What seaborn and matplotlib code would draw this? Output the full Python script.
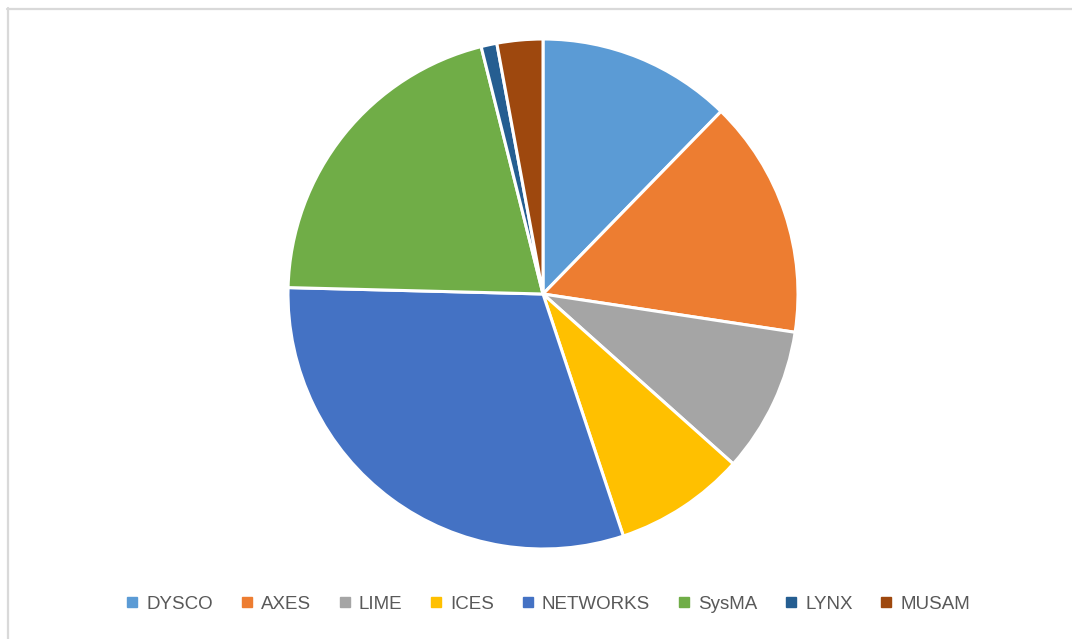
import matplotlib
matplotlib.use("Agg")
import matplotlib.pyplot as plt
from matplotlib.lines import Line2D
import seaborn as sns

projects = ["DYSCO", "AXES", "LIME", "ICES", "NETWORKS", "SysMA", "LYNX", "MUSAM"]
shares = [12.3, 15.1, 9.2, 8.3, 30.5, 20.7, 1.0, 2.9]
colors = ["#5B9BD5", "#ED7D31", "#A5A5A5", "#FFC000", "#4472C4", "#70AD47", "#255E91", "#9E480E"]

sns.set_theme(style="white")
plt.rcParams["font.family"] = ["Liberation Sans", "DejaVu Sans"]
palette = sns.color_palette(colors)

W, H = 1072, 639
fig = plt.figure(figsize=(W / 100, H / 100), dpi=100)

# pie centre ~(543, 294) px, radius ~255 px
cx, cy, r = 543, 294, 255
ax = fig.add_axes([(cx - r) / W, (H - cy - r) / H, 2 * r / W, 2 * r / H])
ax.pie(shares, colors=palette, startangle=90, counterclock=False, radius=1,
       wedgeprops=dict(edgecolor="white", linewidth=2.2))
ax.set_xlim(-1, 1)
ax.set_ylim(-1, 1)
ax.set_aspect("equal")
ax.axis("off")

handles = [Line2D([], [], marker="s", linestyle="", markersize=6.5,
                  markerfacecolor=c, markeredgecolor=c) for c in palette]
fig.legend(handles, projects, loc="center", bbox_to_anchor=(548 / W, 1 - 604 / H),
           ncol=8, frameon=False, fontsize=13.5, handlelength=0.7,
           handletextpad=0.4, columnspacing=1.45, labelcolor="#595959")

# light grey frame edges (top and left visible in the reference)
fig.add_artist(Line2D([7.5 / W, 7.5 / W], [0, 1 - 8 / H], color="#D9D9D9", linewidth=1.6,
                      transform=fig.transFigure))
fig.add_artist(Line2D([7 / W, 1], [1 - 8.5 / H, 1 - 8.5 / H], color="#D9D9D9", linewidth=1.6,
                      transform=fig.transFigure))

fig.savefig("out.png", dpi=100)
